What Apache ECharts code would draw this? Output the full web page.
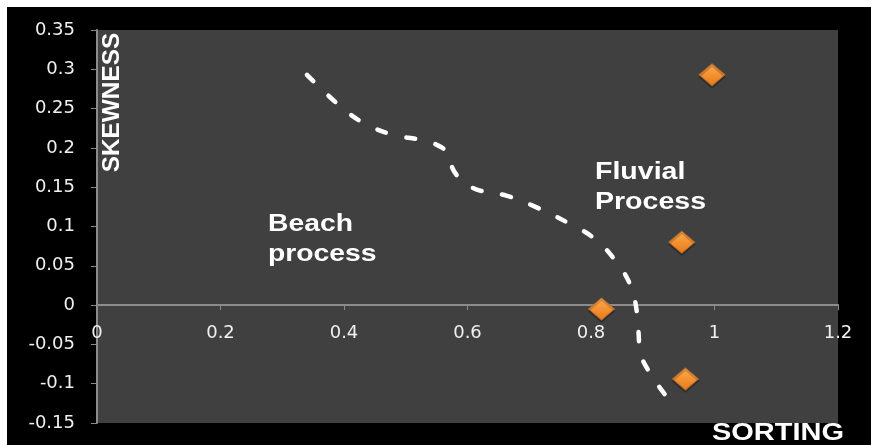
<!DOCTYPE html>
<html>
<head>
<meta charset="utf-8">
<style>
  html, body { margin: 0; padding: 0; background: #ffffff; }
  #chart { position: absolute; left: 7px; top: 7px; width: 864px; height: 438px; }
</style>
<script src="https://cdn.jsdelivr.net/npm/echarts@6/dist/echarts.min.js"></script>
</head>
<body>
<div id="chart"></div>
<script>
// sample points (sorting vs skewness)
const sortingValues = [0.996, 0.947, 0.817, 0.953];
const skewnessValues = [0.293, 0.080, -0.005, -0.094];

// hand-drawn boundary between beach and fluvial fields
const boundaryX = [0.340, 0.391, 0.431, 0.478, 0.526, 0.550, 0.567, 0.577, 0.591, 0.615,
                   0.664, 0.710, 0.762, 0.805, 0.839, 0.864, 0.875, 0.877, 0.880, 0.892, 0.920, 0.931];
const boundaryY = [0.293, 0.255, 0.232, 0.217, 0.210, 0.204, 0.194, 0.172, 0.159, 0.147,
                   0.139, 0.125, 0.105, 0.085, 0.057, 0.025, -0.012, -0.035, -0.061, -0.082, -0.114, -0.123];

const xTicks = { min: 0, max: 1.2, interval: 0.2 };
const yTicks = { min: -0.15, max: 0.35, interval: 0.05 };

const gridTop = 23, gridBottom = 22, chartHeight = 438;
const plotHeight = chartHeight - gridTop - gridBottom;
// x axis sits on y = 0, move it up from the bottom edge
const xAxisOffset = -plotHeight * (0 - yTicks.min) / (yTicks.max - yTicks.min);

const labelFont = 'bold 23px "Liberation Sans", Arial, sans-serif';
const fmt = v => String(+v.toFixed(2));

const chart = echarts.init(document.getElementById('chart'));

chart.setOption({
    backgroundColor: '#000000',
    animation: false,
    grid: {
        left: 90, right: 33, top: gridTop, bottom: gridBottom,
        outerBoundsMode: 'none', containLabel: false,
        show: true, backgroundColor: '#404040', borderWidth: 0
    },
    xAxis: {
        type: 'value',
        position: 'bottom',
        offset: xAxisOffset,
        min: xTicks.min, max: xTicks.max, interval: xTicks.interval,
        axisLine: { onZero: false, lineStyle: { color: '#8c8c8c', width: 2 } },
        axisTick: { show: true, length: 5, lineStyle: { color: '#8c8c8c' } },
        axisLabel: {
            color: '#f0f0f0', fontSize: 18, margin: 19,
            fontFamily: '"DejaVu Sans", sans-serif', formatter: fmt
        },
        splitLine: { show: false }
    },
    yAxis: {
        type: 'value',
        min: yTicks.min, max: yTicks.max, interval: yTicks.interval,
        axisLine: { show: true, onZero: false, lineStyle: { color: '#8c8c8c', width: 2 } },
        axisTick: { show: true, length: 6, lineStyle: { color: '#8c8c8c' } },
        axisLabel: {
            color: '#f0f0f0', fontSize: 18, margin: 22,
            fontFamily: '"DejaVu Sans", sans-serif', formatter: fmt
        },
        splitLine: { show: false }
    },
    series: [
        {
            type: 'line',
            data: boundaryX.map((x, i) => [x, boundaryY[i]]),
            smooth: 0.4,
            showSymbol: false,
            silent: true,
            lineStyle: { color: '#ffffff', width: 4.5, type: [9, 21], cap: 'round' },
            z: 2
        },
        {
            type: 'scatter',
            data: sortingValues.map((x, i) => [x, skewnessValues[i]]),
            symbol: 'diamond',
            symbolSize: [26, 22],
            itemStyle: {
                opacity: 1,
                color: new echarts.graphic.LinearGradient(0, 0, 0, 1, [
                    { offset: 0, color: '#fbad58' },
                    { offset: 0.5, color: '#f59230' },
                    { offset: 1, color: '#e27a1f' }
                ]),
                borderColor: '#b4662a',
                borderWidth: 1,
                shadowColor: 'rgba(0,0,0,0.3)',
                shadowOffsetY: 2,
                shadowBlur: 1
            },
            z: 3
        }
    ],
    graphic: [
        {
            type: 'text', x: 261, y: 233, scaleX: 1.23, z: 10,
            style: { text: 'Beach\nprocess', font: labelFont, fill: '#ffffff',
                     align: 'left', verticalAlign: 'middle', lineHeight: 30 }
        },
        {
            type: 'text', x: 588, y: 180.5, scaleX: 1.24, z: 10,
            style: { text: 'Fluvial\nProcess', font: labelFont, fill: '#ffffff',
                     align: 'left', verticalAlign: 'middle', lineHeight: 30 }
        },
        {
            type: 'text', x: 705, y: 426.5, scaleX: 1.26, z: 10,
            style: { text: 'SORTING', font: labelFont, fill: '#ffffff',
                     align: 'left', verticalAlign: 'middle' }
        },
        {
            type: 'text', x: 106, y: 95.5, rotation: Math.PI / 2, scaleX: 1.06, z: 10,
            style: { text: 'SKEWNESS', font: labelFont, fill: '#ffffff',
                     align: 'center', verticalAlign: 'middle' }
        }
    ]
});
</script>
</body>
</html>
